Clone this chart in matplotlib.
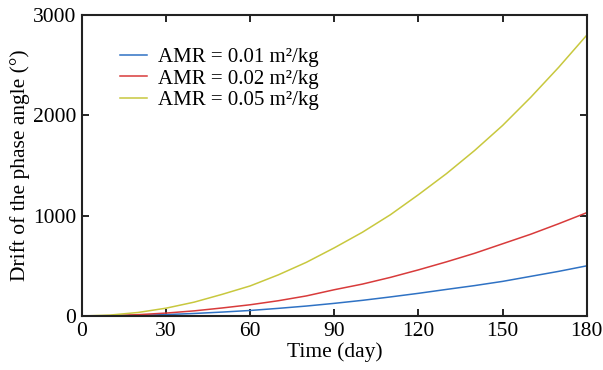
import matplotlib
matplotlib.use("Agg")
import matplotlib.pyplot as plt

# drift of the phase angle (deg) read every 10 days
days = list(range(0, 181, 10))
drift_001 = [0, 2, 6, 14, 25, 39, 55, 76, 99, 126, 156, 190, 226, 265, 303, 345, 395, 445, 500]
drift_002 = [0, 3, 13, 29, 51, 80, 112, 152, 200, 262, 318, 385, 460, 540, 625, 720, 815, 920, 1030]
drift_005 = [0, 9, 35, 78, 138, 216, 300, 410, 535, 680, 835, 1010, 1210, 1420, 1650, 1900, 2180, 2480, 2800]
labels = ["AMR = 0.01 m²/kg", "AMR = 0.02 m²/kg", "AMR = 0.05 m²/kg"]
colors = ["#2f72c4", "#d83b3b", "#c8c83e"]

plt.rcParams["font.family"] = ["Liberation Serif", "DejaVu Serif"]

fig = plt.figure(figsize=(6.03, 3.70), dpi=100)
ax = fig.add_axes([0.136, 0.146, 0.837, 0.813])

for y, lab, c in zip([drift_001, drift_002, drift_005], labels, colors):
    ax.plot(days, y, color=c, linewidth=1.1, label=lab)

ax.set_xlim(0, 180)
ax.set_ylim(0, 3000)
ax.set_xticks(range(0, 181, 30))
ax.set_yticks(range(0, 3001, 1000))
ax.tick_params(direction="in", top=True, right=True, length=5, width=1.2,
               labelsize=15.5, pad=4)
for s in ax.spines.values():
    s.set_linewidth(1.5)
    s.set_color("#222222")

ax.set_xlabel("Time (day)", fontsize=15.5, labelpad=1)
ax.set_ylabel("Drift of the phase angle (°)", fontsize=15.5, labelpad=2)

ax.legend(loc="upper left", bbox_to_anchor=(0.047, 0.94), frameon=False,
          fontsize=15, handlelength=1.3, handletextpad=0.53, labelspacing=0.08,
          borderaxespad=0.3)

fig.savefig("out.png", dpi=100)
